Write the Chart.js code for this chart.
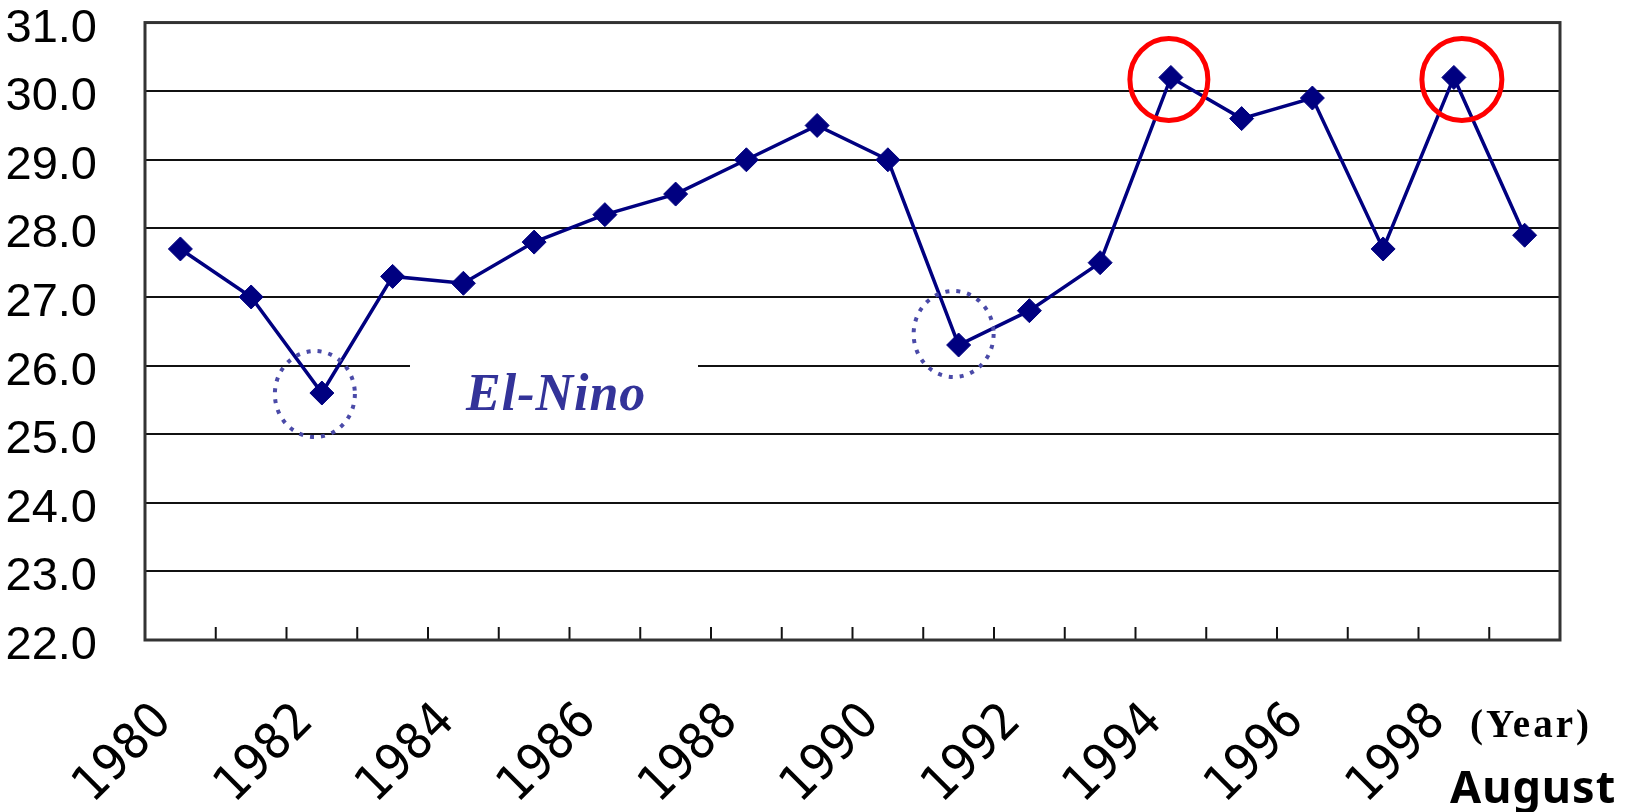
<!DOCTYPE html>
<html>
<head>
<meta charset="utf-8">
<script src="https://cdn.jsdelivr.net/npm/chart.js@4.4.1/dist/chart.umd.min.js"></script>
<style>
    html, body { margin: 0; padding: 0; background: #fff; }
    #wrap { width: 1637px; height: 812px; }
</style>
</head>
<body>
<div id="wrap"><canvas id="sstChart"></canvas></div>
<script>
// Data (August, by year)
const years = ['1980', '1981', '1982', '1983', '1984', '1985', '1986', '1987', '1988', '1989',
               '1990', '1991', '1992', '1993', '1994', '1995', '1996', '1997', '1998', '1999'];
const temps = [27.7, 27.0, 25.6, 27.3, 27.2, 27.8, 28.2, 28.5, 29.0, 29.5,
               29.0, 26.3, 26.8, 27.5, 30.2, 29.6, 29.9, 27.7, 30.2, 27.9];
const yMin = 22.0;
const yMax = 31.0;
const yStep = 1.0;

const xFont = {
    family: "'Liberation Sans Narrow', 'DejaVu Sans Condensed', 'Liberation Sans', sans-serif",
    size: 50,
    lineHeight: 0.9
};
const yFont = {
    family: "'Liberation Sans', Arial, sans-serif",
    size: 47,
    lineHeight: 0.96
};

// rings round the marked points (offsets in px)
const dottedRings = [
    { year: '1982', dx: -7, dy: 1, rx: 40, ry: 43 },
    { year: '1991', dx: -5, dy: -11, rx: 40, ry: 43 }
];
const redRings = [
    { year: '1994', dx: -2, dy: 2, rx: 39, ry: 41 },
    { year: '1998', dx: 8, dy: 2, rx: 40, ry: 41 }
];

const decorPlugin = {
    id: 'decor',
    beforeDatasetsDraw(chart) {
        const { ctx, chartArea: a, scales: { x } } = chart;
        ctx.save();
        // white box behind the El-Nino label
        ctx.fillStyle = '#fff';
        ctx.fillRect(410, 345, 288, 80);
        ctx.fillStyle = '#333399';
        ctx.font = "italic bold 52px 'Liberation Serif', 'DejaVu Serif', serif";
        ctx.letterSpacing = '1px';
        ctx.textBaseline = 'alphabetic';
        ctx.fillText('El-Nino', 466, 410);
        ctx.letterSpacing = '0px';

        // inside tick marks between categories
        ctx.strokeStyle = '#111';
        ctx.lineWidth = 2;
        for (let i = 1; i < years.length; i++) {
            const px = (x.getPixelForValue(i - 1) + x.getPixelForValue(i)) / 2;
            ctx.beginPath();
            ctx.moveTo(px, a.bottom);
            ctx.lineTo(px, a.bottom - 13);
            ctx.stroke();
        }
        // plot frame
        ctx.strokeStyle = '#333';
        ctx.lineWidth = 3;
        ctx.strokeRect(a.left, a.top, a.right - a.left, a.bottom - a.top);
        ctx.restore();
    },
    afterDatasetsDraw(chart) {
        const { ctx, scales: { x, y } } = chart;
        ctx.save();
        dottedRings.forEach(r => {
            const i = years.indexOf(r.year);
            const cx = x.getPixelForValue(i) + r.dx;
            const cy = y.getPixelForValue(temps[i]) + r.dy;
            ctx.strokeStyle = '#4a4aa8';
            ctx.lineWidth = 4;
            ctx.setLineDash([4, 7]);
            ctx.beginPath();
            ctx.ellipse(cx, cy, r.rx, r.ry, 0, 0, Math.PI * 2);
            ctx.stroke();
        });
        ctx.setLineDash([]);
        redRings.forEach(r => {
            const i = years.indexOf(r.year);
            const cx = x.getPixelForValue(i) + r.dx;
            const cy = y.getPixelForValue(temps[i]) + r.dy;
            ctx.strokeStyle = '#ff0000';
            ctx.lineWidth = 5;
            ctx.beginPath();
            ctx.ellipse(cx, cy, r.rx, r.ry, 0, 0, Math.PI * 2);
            ctx.stroke();
        });
        ctx.restore();
    },
    afterDraw(chart) {
        const { ctx } = chart;
        ctx.save();
        ctx.fillStyle = '#000';
        ctx.textBaseline = 'alphabetic';
        ctx.font = "bold 39px 'Liberation Serif', 'DejaVu Serif', serif";
        ctx.letterSpacing = '3px';
        ctx.fillText('(Year)', 1470, 737);
        ctx.letterSpacing = '1px';
        ctx.font = "bold 45px 'Noto Sans', 'Liberation Sans', sans-serif";
        ctx.fillText('August', 1450, 803);
        ctx.restore();
    }
};

const ctx = document.getElementById('sstChart').getContext('2d');
const sstChart = new Chart(ctx, {
    type: 'line',
    data: {
        labels: years,
        datasets: [{
            data: temps,
            borderColor: '#000080',
            backgroundColor: '#000080',
            borderWidth: 3.5,
            pointStyle: 'rectRot',
            pointRadius: 12,
            pointBorderWidth: 1,
            tension: 0,
            fill: false
        }]
    },
    options: {
        responsive: true,
        maintainAspectRatio: false,
        animation: false,
        devicePixelRatio: 1,
        layout: { padding: { top: 0, right: 77, bottom: 0, left: 0 } },
        plugins: {
            legend: { display: false },
            tooltip: { enabled: false }
        },
        scales: {
            x: {
                type: 'category',
                offset: true,
                grid: { display: false },
                border: { display: false },
                ticks: {
                    autoSkip: false,
                    maxRotation: 45,
                    minRotation: 45,
                    padding: 50,
                    labelOffset: -16,
                    color: '#000',
                    font: xFont,
                    callback: (val, i) => (Number(years[i]) % 2 === 0 ? years[i] : '')
                },
                afterFit: s => { s.height = 172; }
            },
            y: {
                min: yMin,
                max: yMax,
                grid: {
                    color: '#111',
                    lineWidth: 2,
                    drawTicks: true,
                    tickLength: 48,
                    tickColor: 'rgba(0,0,0,0)'
                },
                border: { display: false },
                ticks: {
                    stepSize: yStep,
                    padding: 0,
                    labelOffset: 6,
                    color: '#000',
                    font: yFont,
                    callback: v => Number(v).toFixed(1)
                },
                afterFit: s => { s.width = 145; }
            }
        }
    },
    plugins: [decorPlugin]
});
</script>
</body>
</html>
